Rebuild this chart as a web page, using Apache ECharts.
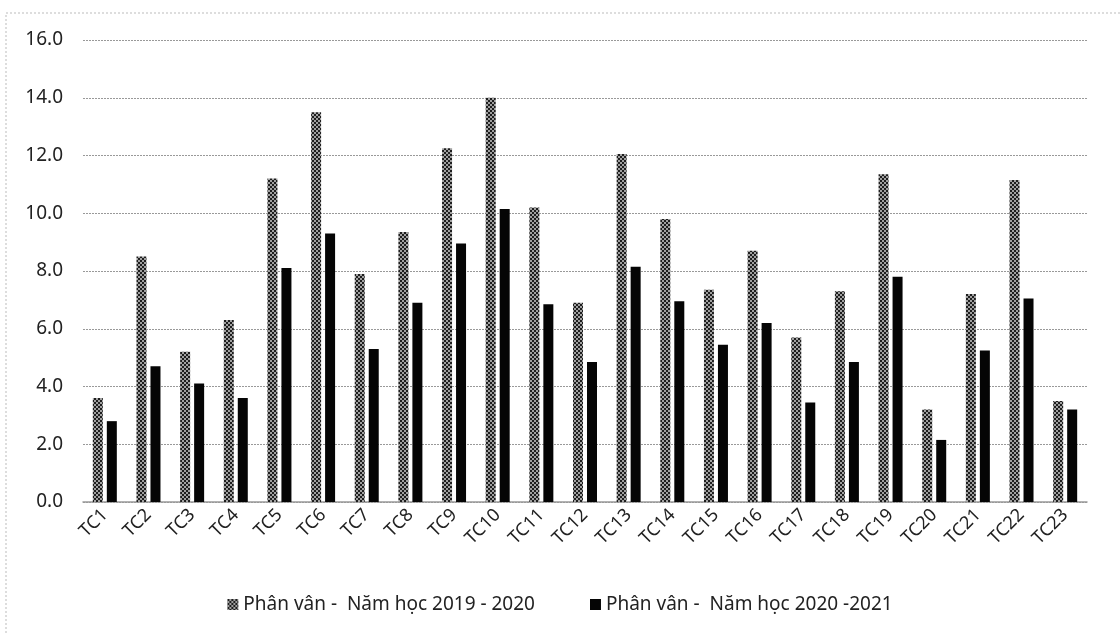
<!DOCTYPE html>
<html>
<head>
<meta charset="utf-8">
<script src="https://cdn.jsdelivr.net/npm/echarts@6/dist/echarts.min.js"></script>
<style>
html,body{margin:0;padding:0;background:#fff;}
#chart{width:1120px;height:635px;}
</style>
</head>
<body>
<div id="chart"></div>
<script>
const categories = ['TC1','TC2','TC3','TC4','TC5','TC6','TC7','TC8','TC9','TC10','TC11','TC12','TC13','TC14','TC15','TC16','TC17','TC18','TC19','TC20','TC21','TC22','TC23'];
const series2019 = [3.6, 8.5, 5.2, 6.3, 11.2, 13.5, 7.9, 9.35, 12.25, 14.0, 10.2, 6.9, 12.05, 9.8, 7.35, 8.7, 5.7, 7.3, 11.35, 3.2, 7.2, 11.15, 3.5];
const series2020 = [2.8, 4.7, 4.1, 3.6, 8.1, 9.3, 5.3, 6.9, 8.95, 10.15, 6.85, 4.85, 8.15, 6.95, 5.45, 6.2, 3.45, 4.85, 7.8, 2.15, 5.25, 7.05, 3.2];
const seriesNames = ['Phân vân -  Năm học 2019 - 2020', 'Phân vân -  Năm học 2020 -2021'];

// checkered pattern for the first series
const pat = document.createElement('canvas');
pat.width = 4; pat.height = 4;
const pc = pat.getContext('2d');
pc.fillStyle = '#a0a0a0'; pc.fillRect(0,0,4,4);
pc.fillStyle = '#1e1e1e';
pc.fillRect(0,0,2,2); pc.fillRect(2,2,2,2);

const chart = echarts.init(document.getElementById('chart'), null, {renderer:'canvas'});
const font = 'Noto Sans';
chart.setOption({
  backgroundColor:'#fff',
  animation:false,
  graphic:[{
    type:'rect', shape:{x:6,y:13,width:1130,height:640},
    style:{fill:'none', stroke:'#bbb', lineWidth:1, lineDash:[2,2]}
  }],
  grid:{left:83, right:33, top:40, bottom:133},
  legend:{
    bottom:16, left:'center', itemGap:55, itemWidth:11, itemHeight:11, icon:'rect',
    textStyle:{fontFamily:font, fontSize:19, color:'#222'},
    data:seriesNames
  },
  xAxis:{
    type:'category', data:categories,
    axisLine:{lineStyle:{color:'#999', width:1.5}},
    axisTick:{show:false},
    axisLabel:{rotate:45, interval:0, fontFamily:font, fontSize:18, color:'#222', margin:10}
  },
  yAxis:{
    type:'value', min:0, max:16, interval:2,
    axisLine:{show:false}, axisTick:{show:false},
    axisLabel:{formatter:v=>v.toFixed(1), fontFamily:font, fontSize:19, color:'#222', margin:20},
    splitLine:{lineStyle:{color:'#999', type:[2,1], width:1.2}}
  },
  series:[
    {name:seriesNames[0], type:'bar', data:series2019, barWidth:10, barGap:'40%',
     itemStyle:{color:{image:pat, repeat:'repeat'}}},
    {name:seriesNames[1], type:'bar', data:series2020, barWidth:10,
     itemStyle:{color:'#050505'}}
  ]
});
</script>
</body>
</html>
